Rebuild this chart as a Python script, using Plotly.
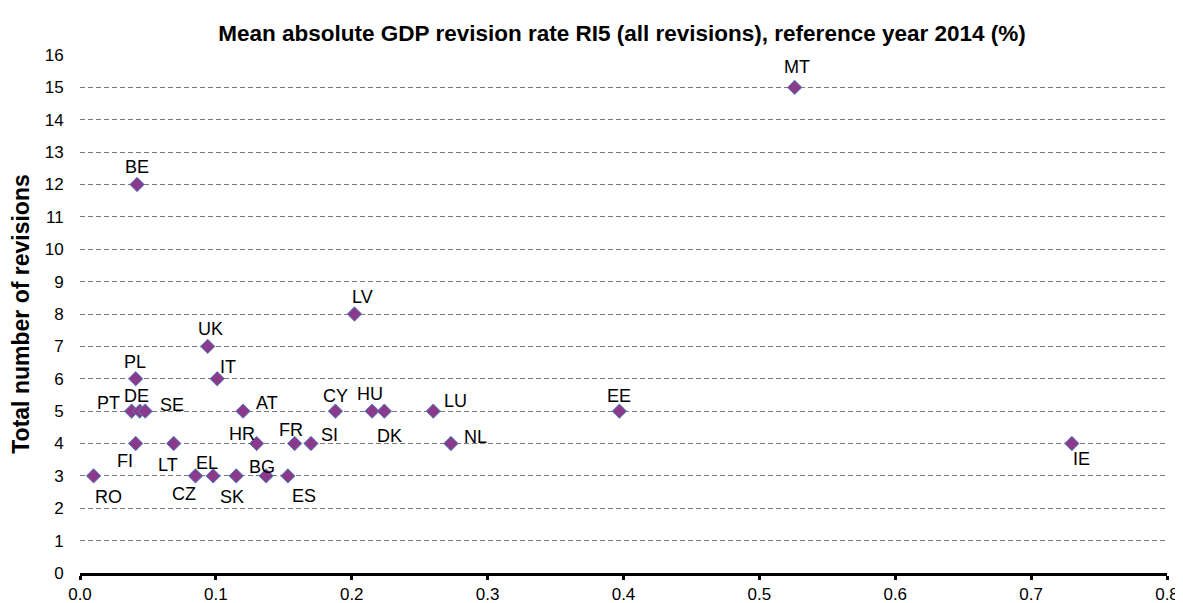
import plotly.graph_objects as go

countries = ["MT", "BE", "LV", "UK", "PL", "IT", "PT", "DE", "SE", "AT", "CY", "HU", "DK", "LU", "EE",
             "FI", "LT", "HR", "FR", "SI", "NL", "IE", "RO", "CZ", "EL", "SK", "BG", "ES"]
revision_rate = [0.526, 0.042, 0.202, 0.094, 0.041, 0.101, 0.038, 0.044, 0.048, 0.120, 0.188, 0.215, 0.224, 0.260, 0.397,
                 0.041, 0.069, 0.130, 0.158, 0.170, 0.273, 0.730, 0.010, 0.085, 0.098, 0.115, 0.137, 0.153]
num_revisions = [15, 12, 8, 7, 6, 6, 5, 5, 5, 5, 5, 5, 5, 5, 5,
                 4, 4, 4, 4, 4, 4, 4, 3, 3, 3, 3, 3, 3]

# label offsets in pixels (dx right, dy up) - styling only
label_dx = [2, 0, 8, 3, -1, 11, -23, -3, 27, 24, 0, -2, 5, 22, 0,
            -11, -6, -15, -4, 19, 25, 10, 15, -11, -6, -4, -4, 16]
label_dy = [20, 18, 17, 17, 17, 12, 8, 15, 6, 8, 15, 17, -25, 10, 15,
            -17, -21, 10, 14, 9, 7, -15, -21, -18, 13, -21, 9, -20]

FONT = "Liberation Sans, Arial, sans-serif"

fig = go.Figure()
fig.add_trace(go.Scatter(
    x=revision_rate, y=num_revisions, mode="markers",
    marker=dict(symbol="diamond", size=11, color="#8B3A8B",
                line=dict(color="#4F81BD", width=1)),
    hoverinfo="text", text=countries, showlegend=False,
))

for c, xv, yv, dx, dy in zip(countries, revision_rate, num_revisions, label_dx, label_dy):
    fig.add_annotation(x=xv, y=yv, xref="x", yref="y", text=c, showarrow=False,
                       xshift=dx, yshift=dy,
                       font=dict(family=FONT, size=18, color="#000000"))

# page body adds an 8px margin; figure is sized to fit the window
fig.update_layout(
    width=1175, height=595,
    margin=dict(l=72, r=16, t=47, b=30),
    paper_bgcolor="white", plot_bgcolor="white",
    title=dict(text="<b>Mean absolute GDP revision rate RI5 (all revisions), reference year 2014 (%)</b>",
               x=0.5226, xanchor="center", y=0.958, yanchor="middle",
               font=dict(family=FONT, size=22.5, color="#000000")),
    font=dict(family=FONT, size=17, color="#000000"),
    xaxis=dict(range=[0, 0.8], dtick=0.1, tickformat=".1f", showgrid=False, zeroline=False,
               showline=True, linecolor="#000000", linewidth=3,
               ticks="outside", ticklen=4, tickwidth=3, tickcolor="#000000",
               tickfont=dict(size=17), automargin=False),
    yaxis=dict(range=[0, 16], dtick=1, showgrid=True, gridcolor="#7A7A7A", griddash="5px,3px", gridwidth=1,
               zeroline=False, showline=False, ticks="outside", ticklen=12, tickcolor="rgba(0,0,0,0)",
               tickfont=dict(size=17), automargin=False,
               title=dict(text="<b>Total number of revisions</b>", standoff=11,
                          font=dict(size=23))),
)

fig.write_html("out.html")
